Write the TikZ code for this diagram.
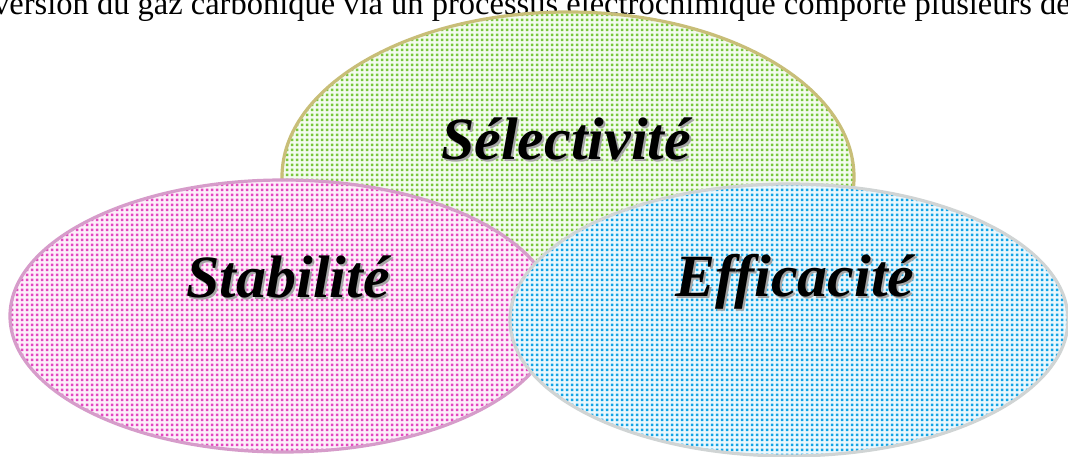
\documentclass[tikz,border=0pt]{standalone}
\usepackage{fontspec}
\setmainfont{Liberation Serif}
\usetikzlibrary{patterns,shapes.geometric}
\pgfdeclarepatternformonly{vdots}{\pgfqpoint{0pt}{0pt}}{\pgfqpoint{5pt}{5pt}}{\pgfqpoint{5pt}{5pt}}{\pgfpathrectangle{\pgfqpoint{1pt}{1pt}}{\pgfqpoint{3pt}{3pt}}\pgfusepath{fill}}
\definecolor{gdot}{RGB}{122,200,60}
\definecolor{pdot}{RGB}{228,70,192}
\definecolor{bdot}{RGB}{20,164,228}
\definecolor{gline}{RGB}{200,190,120}
\definecolor{pline}{RGB}{214,156,202}
\definecolor{bline}{RGB}{208,212,212}
\tikzset{
  bubble/.style={ellipse, inner sep=0pt, line width=3.2pt},
  lbl/.style={anchor=base, font=\fontsize{60}{60}\selectfont\bfseries\itshape, inner sep=0pt},
  shadowlbl/.style={lbl, text=black!35},
}
\begin{document}
\begin{tikzpicture}[x=1pt,y=-1pt]
\useasboundingbox (0,0) rectangle (1068,457);
\clip (0,0) rectangle (1068,457);
\node[anchor=base west, inner sep=0pt, font=\fontsize{32.5}{32.5}\selectfont] (intro) at (-7,15) {version du gaz carbonique via un processus électrochimique comporte plusieurs de};
\node[bubble, draw=gline, preaction={fill=gdot!8}, pattern=vdots, pattern color=gdot, minimum width=572pt, minimum height=330pt] (sel) at (568,177) {};
\node[bubble, draw=pline, preaction={fill=pdot!8}, pattern=vdots, pattern color=pdot, minimum width=546pt, minimum height=272pt] (sta) at (283,316) {};
\node[bubble, draw=bline, preaction={fill=bdot!8}, pattern=vdots, pattern color=bdot, minimum width=558pt, minimum height=272pt] (eff) at (789,320) {};
\node[shadowlbl] (selsh) at (568,162) {Sélectivité};
\node[lbl] (seltxt) at (566,160) {Sélectivité};
\node[shadowlbl] (stash) at (290,299) {Stabilité};
\node[lbl] (statxt) at (288,297) {Stabilité};
\node[shadowlbl] (effsh) at (797,298) {Efficacité};
\node[lbl] (efftxt) at (795,296) {Efficacité};
\end{tikzpicture}
\end{document}
